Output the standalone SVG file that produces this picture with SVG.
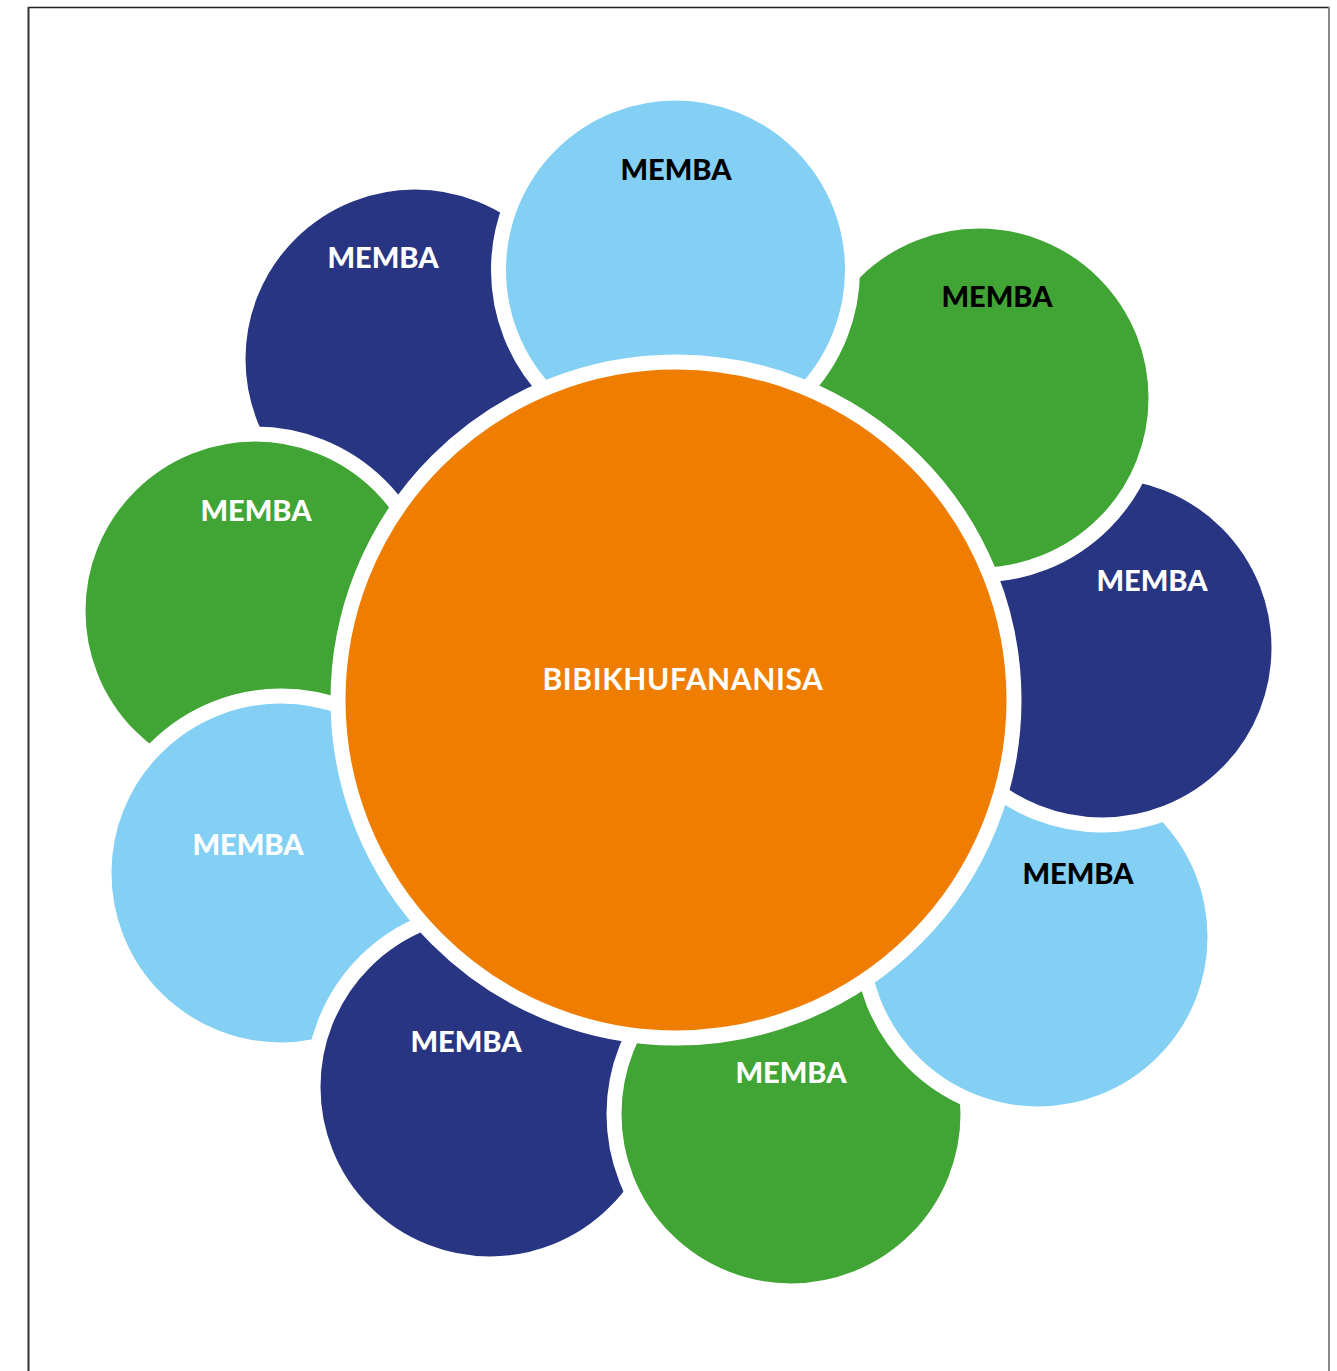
<svg xmlns="http://www.w3.org/2000/svg" width="1337" height="1371" viewBox="0 0 1337 1371">
<style>
.c{stroke:#fff;stroke-width:15}
.navy{fill:#283583}
.green{fill:#41A535}
.lblue{fill:#84D0F5}
.orange{fill:#EF7D00}
.t{font-family:Lato,"Open Sans","Liberation Sans",sans-serif;font-weight:900;font-size:29px;text-anchor:middle}
.w{fill:#fff}
.k{fill:#000}
</style>
<rect width="1337" height="1371" fill="#fff"/>
<g id="frame">
<line x1="28" y1="7.5" x2="1330" y2="7.5" stroke="#222" stroke-width="1.5"/>
<line x1="28.5" y1="7" x2="28.5" y2="1371" stroke="#333" stroke-width="2"/>
<line x1="1329" y1="7" x2="1329" y2="1371" stroke="#888" stroke-width="2"/>
</g>
<g id="connectors"></g>
<g id="member-topleft"><circle class="c navy" cx="415" cy="359" r="177"/><text class="t w" x="383" y="268">MEMBA</text></g>
<g id="member-left"><circle class="c green" cx="255" cy="611" r="177"/><text class="t w" x="256" y="521">MEMBA</text></g>
<g id="member-lowerleft"><circle class="c lblue" cx="281" cy="873" r="177"/><text class="t w" x="248" y="855">MEMBA</text></g>
<g id="member-bottomleft"><circle class="c navy" cx="490" cy="1087" r="177"/><text class="t w" x="466" y="1052">MEMBA</text></g>
<g id="member-bottom"><circle class="c green" cx="791" cy="1114" r="177"/><text class="t w" x="791" y="1083">MEMBA</text></g>
<g id="member-lowerright"><circle class="c lblue" cx="1038" cy="937" r="177"/><text class="t k" x="1078" y="884">MEMBA</text></g>
<g id="member-right"><circle class="c navy" cx="1102" cy="648" r="177"/><text class="t w" x="1152" y="591">MEMBA</text></g>
<g id="member-topright"><circle class="c green" cx="979" cy="398" r="177"/><text class="t k" x="997" y="307">MEMBA</text></g>
<g id="member-top"><circle class="c lblue" cx="675.5" cy="270" r="177"/><text class="t k" x="676" y="180">MEMBA</text></g>
<g id="center"><circle class="c orange" cx="676" cy="700" r="338"/><text class="t w" x="683" y="690" style="font-weight:700;font-size:30px;letter-spacing:0.6px">BIBIKHUFANANISA</text></g>
</svg>
